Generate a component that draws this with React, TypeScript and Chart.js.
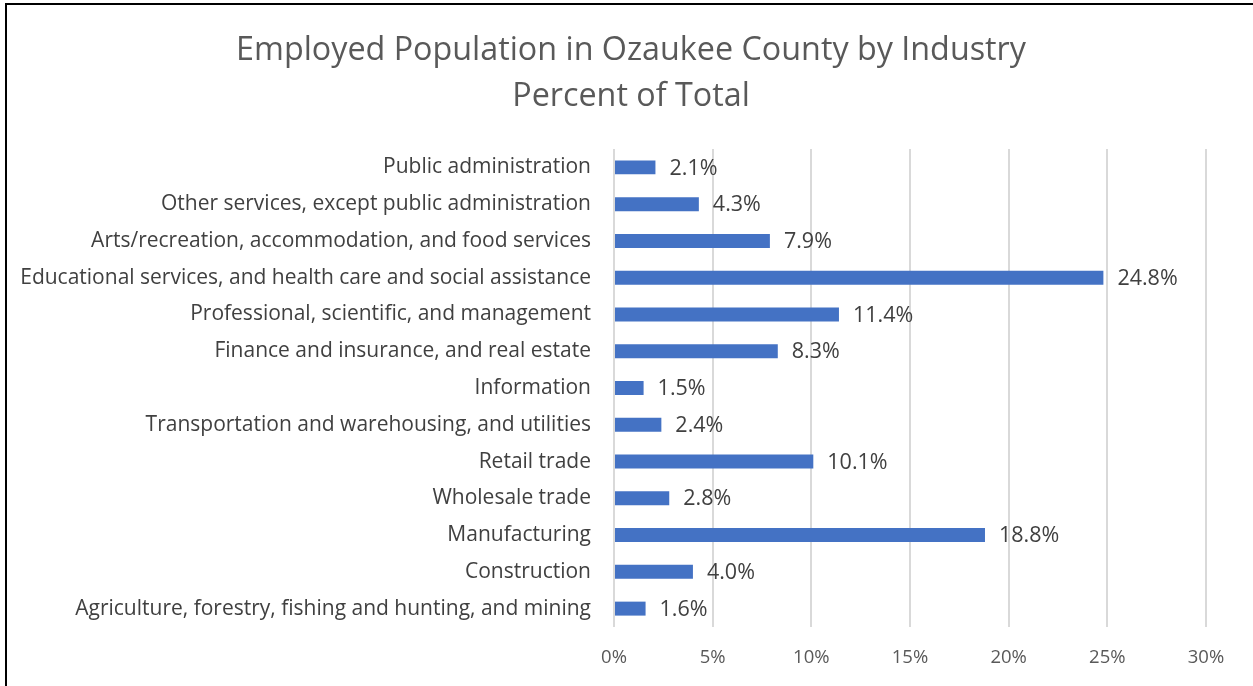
import React, { useEffect, useRef } from "react";
import { Chart, registerables } from "chart.js";

Chart.register(...registerables);

const categories = [
  "Public administration",
  "Other services, except public administration",
  "Arts/recreation, accommodation, and food services",
  "Educational services, and health care and social assistance",
  "Professional, scientific, and management",
  "Finance and insurance, and real estate",
  "Information",
  "Transportation and warehousing, and utilities",
  "Retail trade",
  "Wholesale trade",
  "Manufacturing",
  "Construction",
  "Agriculture, forestry, fishing and hunting, and mining",
];
const values = [2.1, 4.3, 7.9, 24.8, 11.4, 8.3, 1.5, 2.4, 10.1, 2.8, 18.8, 4.0, 1.6];
const titleLines = ["Employed Population in Ozaukee County by Industry", "Percent of Total"];

const FONT = "'Open Sans', sans-serif";

const labelPlugin = {
  id: "barLabels",
  afterDatasetsDraw(chart: any) {
    const ctx = chart.ctx;
    const meta = chart.getDatasetMeta(0);
    ctx.save();
    ctx.font = `21.5px ${FONT}`;
    ctx.fillStyle = "#404040";
    ctx.textAlign = "left";
    ctx.textBaseline = "middle";
    meta.data.forEach((bar: any, i: number) => {
      ctx.fillText(values[i].toFixed(1) + "%", bar.x + 14, bar.y + 1);
    });
    ctx.restore();
  },
};

const titlePlugin = {
  id: "centeredTitle",
  afterDraw(chart: any) {
    const ctx = chart.ctx;
    ctx.save();
    ctx.font = `32.3px ${FONT}`;
    ctx.fillStyle = "#595959";
    ctx.textAlign = "center";
    ctx.textBaseline = "middle";
    titleLines.forEach((line, i) => {
      ctx.fillText(line, 631, 51 + i * 46);
    });
    ctx.restore();
  },
};

export default function App() {
  const ref = useRef<HTMLCanvasElement>(null);
  useEffect(() => {
    const chart = new Chart(ref.current!, {
      type: "bar",
      data: {
        labels: categories,
        datasets: [
          {
            data: values,
            backgroundColor: "#4472C4",
            borderWidth: 0,
            barPercentage: 1,
            categoryPercentage: 0.38,
          },
        ],
      },
      options: {
        indexAxis: "y",
        responsive: false,
        animation: false,
        layout: { padding: { left: 0, right: 47, top: 149, bottom: 0 } },
        plugins: {
          legend: { display: false },
          tooltip: { enabled: false },
          title: { display: false },
        },
        scales: {
          x: {
            min: 0,
            max: 30,
            ticks: {
              stepSize: 5,
              color: "#595959",
              font: { family: FONT, size: 18.5 },
              padding: 20,
              callback: (v: any) => v + "%",
            },
            grid: { color: "#d9d9d9", lineWidth: 2, drawTicks: false },
            border: { display: false },
            afterFit: (scale: any) => {
              scale.height = 59;
            },
          },
          y: {
            ticks: {
              color: "#404040",
              font: { family: FONT, size: 21 },
              padding: 23,
            },
            grid: { display: false, drawTicks: false },
            border: { display: false },
            afterFit: (scale: any) => {
              scale.width = 614;
            },
          },
        },
      },
      plugins: [labelPlugin, titlePlugin],
    });
    return () => chart.destroy();
  }, []);
  return (
    <div style={{ position: "absolute", left: 0, top: 0, width: 1253, height: 686, overflow: "hidden", background: "#fff" }}>
      <canvas ref={ref} width={1253} height={686} style={{ position: "absolute", left: 0, top: 0 }} />
      <div
        style={{
          position: "absolute",
          left: 5,
          top: 3,
          width: 1300,
          height: 800,
          borderLeft: "2px solid #000",
          borderTop: "2px solid #000",
          pointerEvents: "none",
        }}
      />
    </div>
  );
}
